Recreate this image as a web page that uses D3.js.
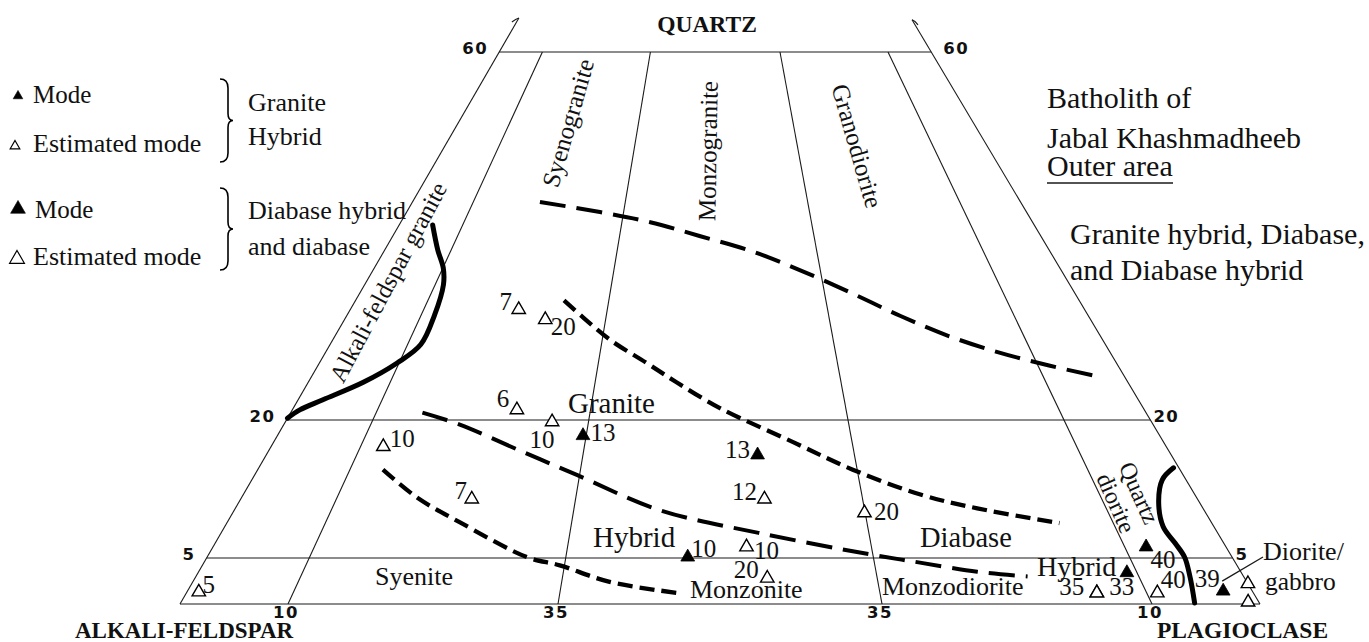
<!DOCTYPE html>
<html>
<head>
<meta charset="utf-8">
<script src="https://cdn.jsdelivr.net/npm/d3@7"></script>
<style>
  html, body { margin: 0; padding: 0; background: #fff; }
  svg { display: block; }
  .serif { font-family: "Liberation Serif", "Times New Roman", serif; fill: #111; }
  .tick { font-family: "DejaVu Sans", sans-serif; font-weight: bold; font-size: 16.5px; fill: #111; letter-spacing: 1.5px; }
</style>
</head>
<body>
<svg id="chart" width="1369" height="642"></svg>
<script>
// ---- QAP diagram, truncated at Q = 60 ----
const qTicks = [5, 20, 60];                  // quartz (%) field boundaries
const ratioTicks = [10, 35, 65, 90];         // 100·P/(A+P) field boundaries
const ratioTickLabels = ["10", "35", "35", "10"];

// samples: modal composition in Q / A / P (%)
const sampleIds  = ["7", "20", "6", "10", "13", "13", "12", "20", "10", "10", "20", "7", "10", "5", "40", "", "35", "33", "40", "39", "", ""];
const sampleKind = ["est", "est", "est", "est", "mode", "mode", "est", "est", "mode", "est", "est", "est", "est", "est", "mode", "mode", "est", "est", "est", "mode", "est", "est"];
const sampleQ = [32.0, 30.9, 21.1, 19.8, 18.3, 16.2, 11.4, 9.9, 5.1, 6.2, 2.8, 11.4, 17.1, 1.3, 6.2, 3.4, 1.2, 1.2, 1.2, 1.4, 2.2, 0.2];
const sampleA = [52.4, 50.5, 58.1, 55.5, 53.4, 38.3, 40.1, 31.6, 50.4, 44.4, 44.2, 67.2, 72.5, 97.6, 7.4, 10.6, 14.5, 14.5, 8.9, 2.7, 0.0, 1.0];
const sampleP = [15.6, 18.6, 20.8, 24.7, 28.3, 45.5, 48.5, 58.5, 44.5, 49.4, 53.0, 21.4, 10.4, 1.1, 86.4, 86.0, 84.3, 84.3, 89.9, 95.9, 97.8, 98.8];

// trend lines as [Q, P] vertices
const alkaliGraniteLine = [[20.2, 0], [21.1, 0.7], [22.2, 2.3], [24.1, 5.1], [26.2, 7.2], [28.2, 8.4], [31.4, 8.1], [34.7, 7.3], [36.5, 6.4], [38.5, 4.9], [41.2, 3.1]];
const dioriteLine = [[14.8, 84.7], [13.5, 84.3], [11.0, 85.2], [8.4, 86.9], [6.6, 88.9], [5.1, 90.5], [2.9, 92.1], [0.1, 93.9]];
const upperLongDash = [[43.7, 11.8], [42.6, 17.9], [41.5, 23.1], [40.0, 28.4], [38.4, 33.9], [36.3, 39.5], [33.9, 45.3], [31.3, 51.3], [29.1, 56.9], [27.3, 62.5], [25.9, 67.8], [24.8, 72.5]];
const upperShortDash = [[33.0, 19.3], [31.0, 22.2], [28.7, 25.7], [26.2, 30.3], [24.1, 34.1], [21.3, 39.5], [17.6, 48.1], [14.6, 55.1], [11.9, 62.7], [10.4, 68.7], [8.8, 77.1]];
const lowerLongDash = [[20.8, 12.2], [19.5, 16.3], [16.7, 23.2], [14.0, 29.9], [10.2, 39.4], [7.7, 49.9], [5.4, 61.2], [4.5, 66.3], [3.5, 72.1], [3.0, 77.0]];
const lowerShortDash = [[14.6, 11.6], [11.6, 16.2], [8.9, 21.5], [5.1, 29.6], [4.2, 33.1], [2.4, 38.6], [1.2, 45.5]];

// ---- drawing ----
const svg = d3.select("#chart");
svg.append("rect").attr("width", 1369).attr("height", 642).attr("fill", "#fff");

const qY = d3.scaleLinear().domain([0, 100]).range([604, -316]);
const xLeft = d3.scaleLinear().domain([0, 100]).range([180, 712]);
const xRight = d3.scaleLinear().domain([0, 100]).range([1260, 712]);
// r = P / (A + P)
const proj = (q, r) => [xLeft(q) + (xRight(q) - xLeft(q)) * r, qY(q)];
const projQP = (q, p) => proj(q, p / (100 - q));

const thin = svg.append("g").attr("stroke", "#1a1a1a").attr("stroke-width", 1.1).attr("fill", "none");
const seg = (a, b) => thin.append("line").attr("x1", a[0]).attr("y1", a[1]).attr("x2", b[0]).attr("y2", b[1]);

seg(proj(0, 0), proj(0, 1));
qTicks.forEach(q => seg(proj(q, 0), proj(q, 1)));
ratioTicks.forEach(r => seg(proj(0, r / 100), proj(60, r / 100)));
seg(proj(0, 0), proj(63.7, 0));
seg(proj(0, 1), proj(63.5, 1));
// break marks where the sides continue toward the Q apex
const tl = proj(63.7, 0), tr = proj(63.5, 1);
thin.append("path").attr("d", `M${tl[0]},${tl[1]} q-3,1 -7,4`);
thin.append("path").attr("d", `M${tr[0]},${tr[1]} q3,1 6,5`);

// tick labels
const tick = svg.append("g").attr("class", "tick");
qTicks.forEach(q => {
  const l = proj(q, 0), r = proj(q, 1);
  tick.append("text").attr("x", l[0] - 11).attr("y", l[1] + 2).attr("text-anchor", "end").text(q);
  tick.append("text").attr("x", r[0] + (q === 60 ? 12 : 3)).attr("y", r[1] + 2).attr("text-anchor", "start").text(q);
});
ratioTicks.forEach((r, i) => {
  const p = proj(0, r / 100);
  tick.append("text").attr("x", p[0] - 2).attr("y", 618).attr("text-anchor", "middle").text(ratioTickLabels[i]);
});

// trend lines
const line = d3.line().x(d => projQP(d[0], d[1])[0]).y(d => projQP(d[0], d[1])[1]).curve(d3.curveCatmullRom.alpha(0.5));
const trend = (data, w, dash) => svg.append("path").datum(data).attr("d", line)
  .attr("fill", "none").attr("stroke", "#000").attr("stroke-width", w)
  .attr("stroke-dasharray", dash).attr("stroke-linecap", "butt");
trend(alkaliGraniteLine, 5, null).attr("stroke-linecap", "round");
trend(dioriteLine, 5, null).attr("stroke-linecap", "round");
trend(upperLongDash, 4, "26,11");
trend(lowerLongDash, 4, "26,11");
trend(upperShortDash, 4.3, "15,7");
trend(lowerShortDash, 4.3, "15,7");

// samples
const tri = s => d3.symbol().type(d3.symbolTriangle).size(s)();
const labelNudge = [[-13, -8], [18, 7], [-14, -11], [-10, 18], [20, -3], [-20, -5], [-20, -8], [22, -1], [16, -9], [20, 4], [-21, -9], [-11, -9], [19, -8], [10, -8], [17, 13], [0, 0], [-25, -6], [25, -6], [16, -13], [-16, -13], [0, 0], [0, 0]];
const samples = sampleIds.map((id, i) => ({ id, kind: sampleKind[i], q: sampleQ[i], a: sampleA[i], p: sampleP[i], i }));
const gS = svg.append("g");
samples.forEach(s => {
  const [x, y] = proj(s.q, s.p / (s.a + s.p));
  gS.append("path").attr("d", tri(s.kind === "mode" ? 82 : 78))
    .attr("transform", `translate(${x},${y})`)
    .attr("fill", s.kind === "mode" ? "#000" : "#fff")
    .attr("stroke", "#000").attr("stroke-width", s.kind === "mode" ? 0.8 : 1.4);
  if (s.id) {
    const [dx, dy] = labelNudge[s.i];
    gS.append("text").attr("class", "serif").attr("font-size", 25)
      .attr("x", x + dx).attr("y", y + dy + 8.5).attr("text-anchor", "middle").text(s.id);
  }
});
// leader to the Diorite/gabbro field label
{
  const [x, y] = proj(sampleQ[19], sampleP[19] / (sampleA[19] + sampleP[19]));
  thin.append("line").attr("x1", x - 1).attr("y1", y - 10).attr("x2", 1263).attr("y2", 557).attr("stroke-width", 1.3);
}

// text helpers
const txt = (x, y, s, size, opts = {}) => {
  const t = svg.append("text").attr("class", "serif").attr("x", x).attr("y", y)
    .attr("font-size", size).text(s);
  if (opts.bold) t.attr("font-weight", "bold");
  if (opts.anchor) t.attr("text-anchor", opts.anchor);
  return t;
};
const rot = (x, y, s, size, angle) => svg.append("text").attr("class", "serif")
  .attr("transform", `translate(${x},${y}) rotate(${angle})`)
  .attr("text-anchor", "middle").attr("dominant-baseline", "central")
  .attr("font-size", size).text(s);

// corner labels
txt(707, 32, "QUARTZ", 23.5, { bold: true, anchor: "middle" });
txt(75, 638, "ALKALI-FELDSPAR", 23, { bold: true });
txt(1157, 638, "PLAGIOCLASE", 23.5, { bold: true });

// field names
rot(568, 123, "Syenogranite", 25, -74);
rot(708, 151, "Monzogranite", 25, -89);
rot(857, 146, "Granodiorite", 25, 74);
rot(388, 282, "Alkali-feldspar granite", 24.5, -62);
rot(1139, 493, "Quartz", 24, 66);
rot(1116, 503, "diorite", 24, 66);
txt(375, 585, "Syenite", 26);
txt(690, 598, "Monzonite", 26);
txt(882, 595, "Monzodiorite", 26);
txt(1263, 560, "Diorite/", 26);
txt(1265, 590, "gabbro", 25.5);

// group names
txt(568, 413, "Granite", 29);
txt(593, 547, "Hybrid", 29);
txt(920, 547, "Diabase", 28.5);
txt(1037, 576, "Hybrid", 28);

// title block
txt(1047, 108, "Batholith of", 30);
txt(1047, 148, "Jabal Khashmadheeb", 30);
txt(1047, 176, "Outer area", 30);
thin.append("line").attr("x1", 1047).attr("y1", 183).attr("x2", 1173).attr("y2", 183).attr("stroke-width", 1.6);
txt(1070, 244, "Granite hybrid, Diabase,", 30);
txt(1070, 280, "and  Diabase hybrid", 30);

// legend
const legendSym = (x, y, filled, s) => svg.append("path").attr("d", tri(s))
  .attr("transform", `translate(${x},${y})`)
  .attr("fill", filled ? "#000" : "#fff").attr("stroke", "#000").attr("stroke-width", filled ? 0.6 : 1.2);
legendSym(18, 96, true, 40);
legendSym(15, 146, false, 40);
legendSym(18, 209, true, 95);
legendSym(17, 259, false, 95);
txt(33, 103, "Mode", 25);
txt(33, 152, "Estimated mode", 26);
txt(35, 218, "Mode", 25);
txt(33, 265, "Estimated mode", 26);
txt(248, 111, "Granite", 26);
txt(248, 145, "Hybrid", 26);
txt(248, 219, "Diabase hybrid", 26);
txt(248, 255, "and diabase", 26);

const brace = (x, y0, y1, w) => {
  const ym = (y0 + y1) / 2;
  return `M${x},${y0} Q${x + w},${y0} ${x + w},${y0 + 9} L${x + w},${ym - 7} Q${x + w},${ym} ${x + w + 5},${ym}` +
    ` Q${x + w},${ym} ${x + w},${ym + 7} L${x + w},${y1 - 9} Q${x + w},${y1} ${x},${y1}`;
};
svg.append("path").attr("d", brace(220, 79, 162, 8)).attr("fill", "none").attr("stroke", "#000").attr("stroke-width", 1.6);
svg.append("path").attr("d", brace(220, 188, 270, 8)).attr("fill", "none").attr("stroke", "#000").attr("stroke-width", 1.6);
</script>
</body>
</html>
